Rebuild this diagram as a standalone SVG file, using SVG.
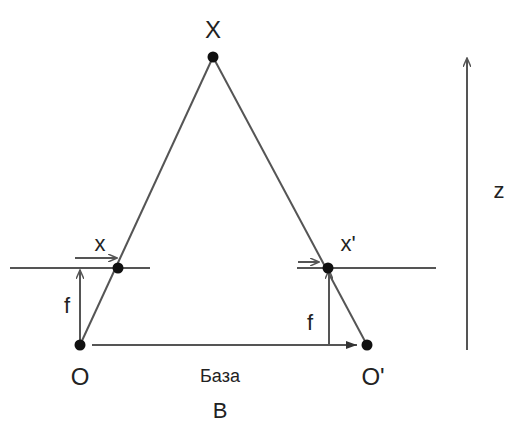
<svg xmlns="http://www.w3.org/2000/svg" width="509" height="428" viewBox="0 0 509 428">
<style>
.ln{stroke:#555;stroke-width:2;fill:none}
.t{font-family:"Liberation Sans",Arial,sans-serif;fill:#222}
.pt{fill:#111}
</style>
<defs>
<marker id="ah" markerWidth="10" markerHeight="8" refX="9" refY="4" orient="auto" markerUnits="userSpaceOnUse">
<path d="M0,0 L9,4 L0,8" fill="none" stroke="#555" stroke-width="1.5"/>
</marker>
<marker id="ahf" markerWidth="12" markerHeight="8" refX="11" refY="4" orient="auto" markerUnits="userSpaceOnUse">
<path d="M0,0 L11,4 L0,8 Z" fill="#333"/>
</marker>
</defs>
<rect width="509" height="428" fill="#fff"/>
<g id="connectors">
<line class="ln" x1="80" y1="345" x2="213" y2="57"/>
<line class="ln" x1="213" y1="57" x2="367" y2="345"/>
<line class="ln" x1="10" y1="268" x2="150" y2="268"/>
<line class="ln" x1="297" y1="268" x2="436" y2="268"/>
<line class="ln" x1="80" y1="345" x2="80" y2="270" marker-end="url(#ah)"/>
<line class="ln" x1="329" y1="345" x2="329" y2="270" marker-end="url(#ah)"/>
<line class="ln" x1="92" y1="345" x2="357" y2="345" stroke="#333" marker-end="url(#ahf)"/>
<line class="ln" x1="75" y1="258" x2="117" y2="258" marker-end="url(#ah)"/>
<line class="ln" x1="298" y1="262" x2="319" y2="262" marker-end="url(#ah)"/>
<line class="ln" x1="467" y1="350" x2="467" y2="58" marker-end="url(#ah)"/>
</g>
<g id="X"><circle class="pt" cx="213" cy="57" r="5.5"/><text class="t" x="213" y="38" font-size="24" text-anchor="middle">X</text></g>
<g id="x"><circle class="pt" cx="118" cy="268" r="5.5"/><text class="t" x="100" y="251" font-size="22" text-anchor="middle">x</text></g>
<g id="x2"><circle class="pt" cx="328" cy="268" r="5.5"/><text class="t" x="348" y="251" font-size="22" text-anchor="middle">x'</text></g>
<g id="O"><circle class="pt" cx="80" cy="345" r="5.5"/><text class="t" x="80" y="385" font-size="24" text-anchor="middle">O</text></g>
<g id="O2"><circle class="pt" cx="367" cy="345" r="5.5"/><text class="t" x="373" y="385" font-size="24" text-anchor="middle">O'</text></g>
<g id="labels">
<text class="t" x="67" y="313" font-size="22" text-anchor="middle">f</text>
<text class="t" x="310" y="330" font-size="22" text-anchor="middle">f</text>
<text class="t" x="220" y="382" font-size="18" text-anchor="middle">База</text>
<text class="t" x="220" y="418" font-size="22" text-anchor="middle">B</text>
<text class="t" x="499" y="198" font-size="22" text-anchor="middle">z</text>
</g>
</svg>
